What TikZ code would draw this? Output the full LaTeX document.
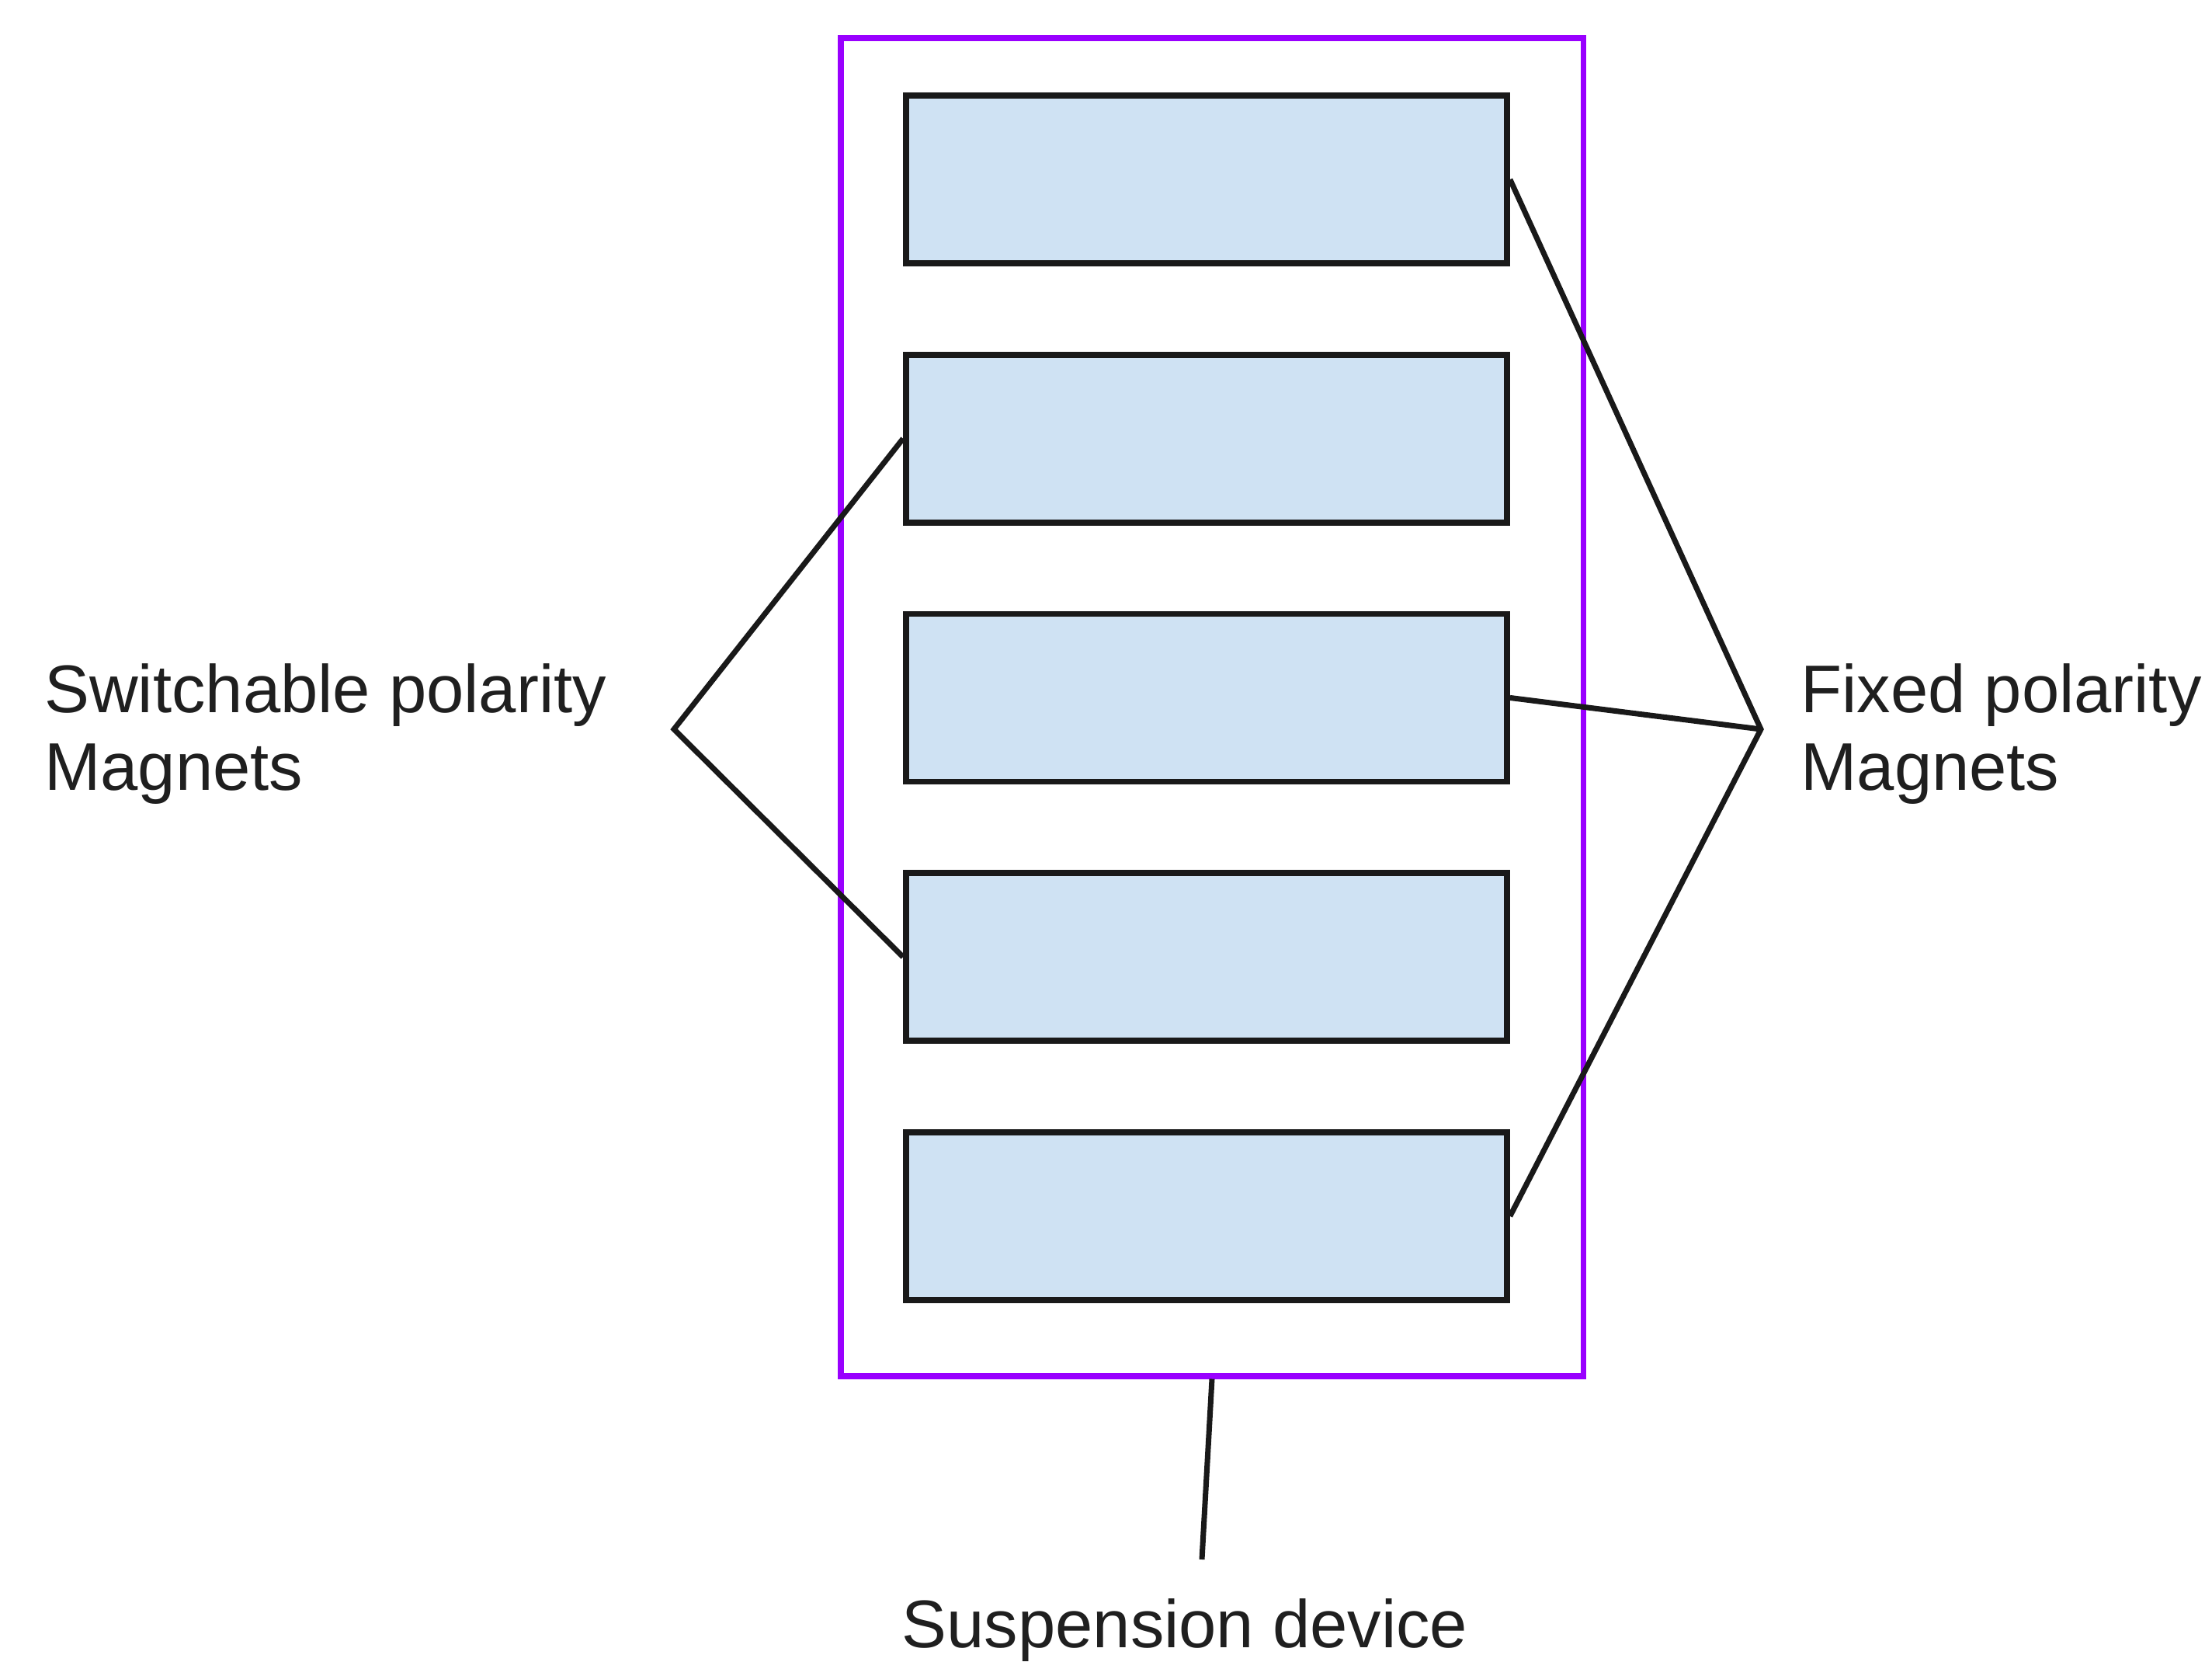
\documentclass[tikz,border=0pt]{standalone}
\usepackage{fontspec}
\setmainfont{Liberation Sans}
\usetikzlibrary{positioning}

\definecolor{magfill}{HTML}{CFE2F3}
\definecolor{devpurple}{HTML}{9900FF}

\begin{document}
\begin{tikzpicture}[node distance=1.10cm,
    magnet/.style={draw=black!90, line width=2.2pt, fill=magfill, rectangle, minimum width=7.74cm, minimum height=2.16cm, inner sep=0pt},
    frame/.style={draw=devpurple, line width=2pt, rectangle, minimum width=9.56cm, minimum height=17.23cm, inner sep=0pt},
    lbl/.style={align=left, text=black!88, font=\fontsize{24.7}{28.5}\selectfont},
    link/.style={draw=black!90, line width=2pt}]
    \useasboundingbox (0,0) rectangle (28.49,-21.40);
    \node[frame] (dev) at (15.61,-9.105) {};
    \node[magnet] (m1) at (15.54,-2.31) {};
    \node[magnet, below=of m1] (m2) {};
    \node[magnet, below=of m2] (m3) {};
    \node[magnet, below=of m3] (m4) {};
    \node[magnet, below=of m4] (m5) {};
    \coordinate (sw) at (8.68,-9.39);
    \coordinate (fx) at (22.68,-9.39);
    \coordinate (tail) at (15.48,-20.08);
    \node[lbl, anchor=west] (swtext) at (0.45,-9.45) {Switchable polarity\\Magnets};
    \node[lbl, anchor=west] (fxtext) at (23.07,-9.45) {Fixed polarity\\Magnets};
    \node[lbl] (susp) at (15.26,-20.99) {Suspension device};
    \draw[link] (m2.west) -- (sw) -- (m4.west);
    \draw[link] (m1.east) -- (fx) -- (m5.east);
    \draw[link] (m3.east) -- (fx);
    \draw[link] (dev.south) -- (tail);
\end{tikzpicture}
\end{document}
